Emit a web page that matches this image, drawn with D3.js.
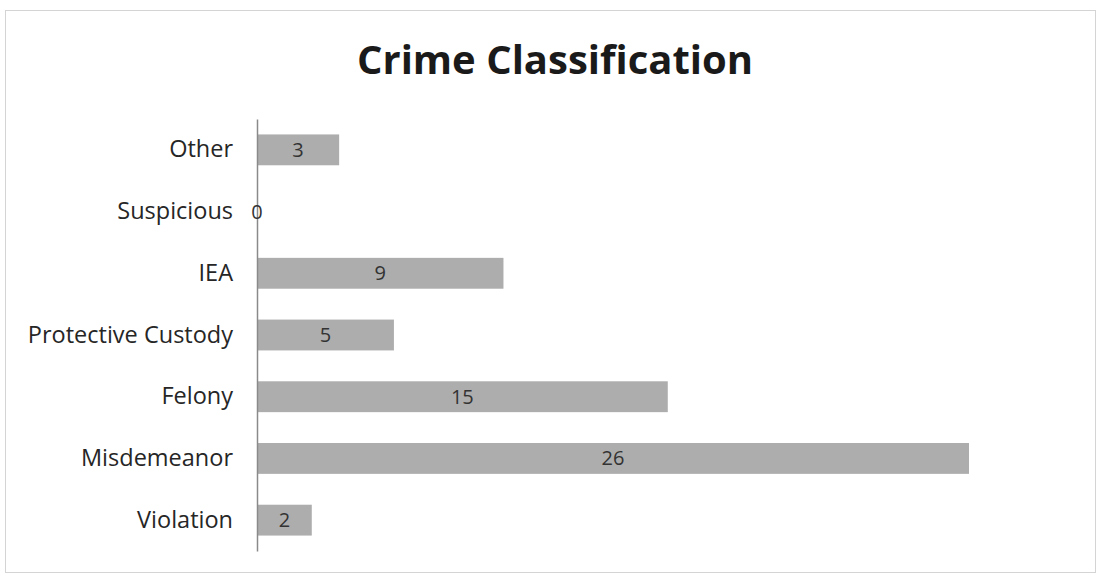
<!DOCTYPE html>
<html>
<head>
<meta charset="utf-8">
<script src="https://cdn.jsdelivr.net/npm/d3@7"></script>
<style>
  body { margin: 0; background: #fff; }
  svg { display: block; }
</style>
</head>
<body>
<svg id="chart" width="1100" height="578"></svg>
<script>
'use strict';

var categories = ['Other', 'Suspicious', 'IEA', 'Protective Custody', 'Felony', 'Misdemeanor', 'Violation'];
var counts = [3, 0, 9, 5, 15, 26, 2];
var chartTitle = 'Crime Classification';

(function() {
  var svg = d3.select('#chart');
  var left = 257, top = 119, plotH = 432;
  var font = '"Open Sans", Lato, sans-serif';

  // outer frame like the pasted chart object
  svg.append('rect')
    .attr('x', 5.5).attr('y', 10.5)
    .attr('width', 1090).attr('height', 562)
    .attr('fill', 'none')
    .attr('stroke', '#d4d4d4');

  svg.append('text')
    .attr('x', 555).attr('y', 74)
    .attr('text-anchor', 'middle')
    .attr('font-family', font)
    .attr('font-weight', 'bold')
    .attr('font-size', 40)
    .attr('fill', '#1a1a1a')
    .text(chartTitle);

  var x = d3.scaleLinear().domain([0, 26]).range([left, 969]);
  var y = d3.scaleBand().domain(categories).range([top, top + plotH])
    .paddingInner(0.5).paddingOuter(0.25);

  var rows = categories.map(function(c, i) { return { cat: c, val: counts[i] }; });

  svg.selectAll('rect.bar')
    .data(rows)
    .enter().append('rect').attr('class', 'bar')
    .attr('x', x(0))
    .attr('y', function(d) { return y(d.cat); })
    .attr('width', function(d) { return x(d.val) - x(0); })
    .attr('height', y.bandwidth())
    .attr('fill', '#adadad');

  var yAxis = svg.append('g')
    .attr('transform', 'translate(' + left + ',0)')
    .call(d3.axisLeft(y).tickSize(0).tickPadding(24));
  yAxis.select('.domain').attr('stroke', '#8a8a8a').attr('stroke-width', 1.5);
  yAxis.selectAll('text')
    .attr('font-family', font)
    .attr('font-size', 23.5)
    .attr('fill', '#262626');

  svg.selectAll('text.val')
    .data(rows)
    .enter().append('text').attr('class', 'val')
    .attr('x', function(d) { return (x(0) + x(d.val)) / 2; })
    .attr('y', function(d) { return y(d.cat) + y.bandwidth() / 2; })
    .attr('dy', '0.35em')
    .attr('text-anchor', 'middle')
    .attr('font-family', font)
    .attr('font-size', 20)
    .attr('fill', '#333')
    .text(function(d) { return d.val; });
}());
</script>
</body>
</html>
